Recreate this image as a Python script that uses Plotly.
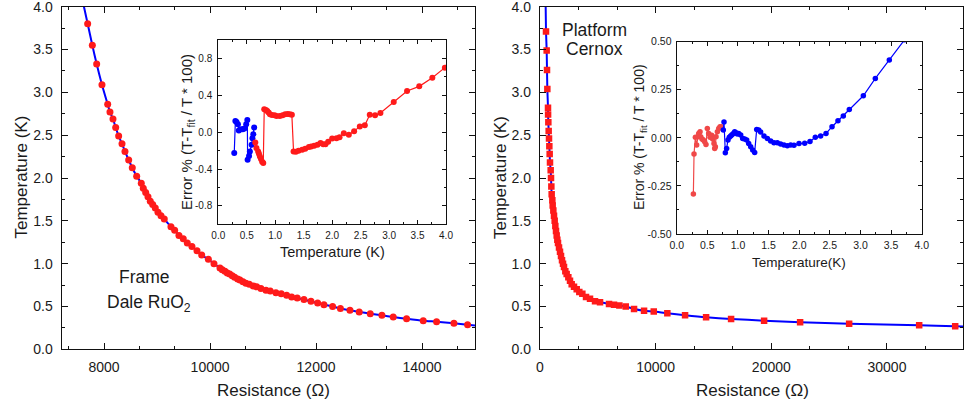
import plotly.graph_objects as go

# ---------------- Frame thermometer (Dale RuO2) ----------------
frame_R = [7690, 7778, 7860, 7960, 8068, 8111, 8168, 8219, 8275, 8338, 8394, 8464,
           8532, 8615, 8702, 8740, 8785, 8828, 8872, 8917, 8966, 9017, 9074, 9136,
           9262, 9332, 9413, 9494, 9570, 9658, 9753, 9842, 9968, 10074, 10187, 10230,
           10281, 10325, 10370, 10419, 10464, 10521, 10564, 10621, 10677, 10740, 10815,
           10879, 10960, 11055, 11136, 11243, 11343, 11445, 11540, 11645, 11772, 11904,
           12030, 12149, 12313, 12460, 12640, 12815, 13023, 13243, 13457, 13709, 14023,
           14275, 14602, 14860]
frame_T = [3.80, 3.55, 3.33, 3.09, 2.86, 2.77, 2.69, 2.59, 2.49, 2.40, 2.31, 2.21,
           2.12, 2.02, 1.94, 1.88, 1.83, 1.78, 1.73, 1.69, 1.65, 1.60, 1.56, 1.52,
           1.43, 1.39, 1.33, 1.29, 1.24, 1.20, 1.15, 1.10, 1.05, 1.00, 0.95, 0.93,
           0.91, 0.89, 0.88, 0.86, 0.84, 0.82, 0.81, 0.79, 0.77, 0.76, 0.74,
           0.73, 0.71, 0.69, 0.68, 0.66, 0.65, 0.63, 0.61, 0.60, 0.58, 0.56,
           0.54, 0.52, 0.50, 0.476, 0.455, 0.435, 0.416, 0.397, 0.377, 0.357, 0.334,
           0.322, 0.303, 0.287]
# fitted calibration curve (ends beyond the measured points)
frame_fit_R = [7620] + frame_R + [15000]
frame_fit_T = [4.0] + frame_T + [0.278]

# ---------------- Platform thermometer (Cernox) ----------------
plat_R = [519, 577, 606, 635, 692, 700, 721, 750, 779, 808, 836, 865, 923, 952, 981,
          1009, 1067, 1096, 1153, 1211, 1269, 1326, 1384, 1442, 1499, 1557, 1644, 1730,
          1817, 1903, 1990, 2076, 2190, 2306, 2450, 2595, 2740, 2941, 3174, 3400, 3662,
          3979, 4325, 4758, 5190, 5969, 6401, 6863, 7415, 8131, 8997, 9836, 11010,
          12543, 14360, 16522, 19377, 22491, 26730, 32785, 35900]
plat_T = [3.71, 3.49, 3.26, 3.04, 2.82, 2.74, 2.65, 2.55, 2.46, 2.37, 2.28, 2.18, 2.09,
          2.00, 1.90, 1.81, 1.74, 1.68, 1.62, 1.56, 1.50, 1.44, 1.38, 1.33, 1.28, 1.24,
          1.19, 1.14, 1.09, 1.04, 1.00, 0.96, 0.91, 0.88, 0.84, 0.80, 0.76, 0.73, 0.70,
          0.67, 0.65, 0.61, 0.59, 0.56, 0.55, 0.53, 0.52, 0.51, 0.50, 0.47, 0.45, 0.44,
          0.42, 0.397, 0.373, 0.354, 0.334, 0.315, 0.299, 0.280, 0.268]
plat_fit_R = [490] + plat_R + [36600]
plat_fit_T = [4.0] + plat_T + [0.265]

# ---------------- Fit residuals, frame ----------------
frame_err_blue_T = [0.28, 0.30, 0.32, 0.345, 0.36, 0.40, 0.43, 0.46, 0.49, 0.51,
                    0.515, 0.54, 0.555, 0.585, 0.60, 0.615, 0.63]
frame_err_blue = [-0.227, 0.122, 0.111, 0.086, 0.018, 0.032, 0.032, 0.04, 0.086, 0.133,
                  -0.30, -0.26, -0.21, -0.137, -0.065, -0.022, 0.05]
frame_err_red_T = [0.65, 0.67, 0.70, 0.714, 0.73, 0.75, 0.77, 0.79, 0.807, 0.837, 0.86,
                   0.884, 0.907, 0.942, 0.989, 1.024, 1.082, 1.13, 1.175, 1.22, 1.257,
                   1.292, 1.322, 1.363, 1.41, 1.474, 1.527, 1.591, 1.632, 1.684, 1.743,
                   1.796, 1.843, 1.883, 1.93, 2.0, 2.077, 2.13, 2.205, 2.293, 2.386,
                   2.486, 2.574, 2.661, 2.754, 2.848, 3.082, 3.316, 3.53, 3.76, 3.98]
frame_err_red = [-0.112, -0.173, -0.21, -0.235, -0.264, -0.292, -0.321, -0.335, 0.248,
                 0.241, 0.23, 0.212, 0.194, 0.187, 0.184, 0.176, 0.176, 0.184, 0.194,
                 0.198, 0.194, 0.19, -0.21, -0.213, -0.202, -0.19, -0.18, -0.162, -0.155,
                 -0.148, -0.137, -0.119, -0.13, -0.13, -0.105, -0.069, -0.065, -0.054,
                 -0.011, -0.029, 0.011, 0.061, 0.076, 0.19, 0.184, 0.209, 0.327, 0.446,
                 0.497, 0.59, 0.70]

# ---------------- Fit residuals, platform ----------------
plat_err_red_T = [0.272, 0.283, 0.305, 0.326, 0.348, 0.359, 0.381, 0.392, 0.413, 0.435,
                  0.457, 0.478, 0.50, 0.522, 0.544, 0.571, 0.588, 0.609, 0.62, 0.631,
                  0.642, 0.664, 0.686, 0.707, 0.729]
plat_err_red = [-0.292, -0.084, 0.003, -0.037, 0.006, 0.023, 0.032, 0.006, -0.006,
                -0.011, -0.02, -0.034, 0.049, 0.023, 0.003, 0.013, -0.006, -0.029,
                -0.055, -0.046, 0.006, 0.032, 0.049, 0.058, 0.058]
plat_err_blue_T = [0.761, 0.772, 0.794, 0.815, 0.837, 0.859, 0.881, 0.903, 0.925, 0.947,
                   0.968, 0.99, 1.012, 1.045, 1.077, 1.11, 1.143, 1.175, 1.208, 1.241,
                   1.273, 1.306, 1.339, 1.371, 1.425, 1.48, 1.534, 1.588, 1.643, 1.697,
                   1.752, 1.806, 1.861, 1.915, 1.997, 2.09, 2.176, 2.263, 2.35, 2.438,
                   2.536, 2.633, 2.72, 2.818, 3.047, 3.243, 3.471, 3.72]
plat_err_blue = [0.041, 0.082, -0.077, -0.055, -0.011, 0.003, 0.009, 0.016, 0.023, 0.032,
                 0.027, 0.02, 0.023, 0.015, -0.003, -0.006, -0.011, -0.029, -0.046, -0.063,
                 -0.076, 0.044, 0.041, 0.03, 0.009, -0.003, -0.017, -0.025, -0.025, -0.032,
                 -0.037, -0.041, -0.037, -0.039, -0.03, -0.028, -0.019, 0.003, 0.009, 0.023,
                 0.058, 0.089, 0.113, 0.148, 0.219, 0.309, 0.405, 0.51]

# tick labels
main_T_ticks = [0.0, 0.5, 1.0, 1.5, 2.0, 2.5, 3.0, 3.5, 4.0]
inset_T_ticks = [0.0, 0.5, 1.0, 1.5, 2.0, 2.5, 3.0, 3.5, 4.0]
frame_err_ticks = [-0.8, -0.4, 0.0, 0.4, 0.8]
frame_err_labels = ["-0.8", "-0.4", "0.0", "0.4", "0.8"]
plat_err_ticks = [-0.5, -0.25, 0.0, 0.25, 0.5]
plat_err_labels = ["-0.50", "-0.25", "0.00", "0.25", "0.50"]

W, H = 965, 407
FONT = "Liberation Sans, Arial, sans-serif"
TXT = "#1a1a1a"
RED = "#ff1a1a"
BLUE = "#0000ff"


def px_x(p):
    return p / W


def px_y(p):
    return (H - p) / H


fig = go.Figure()

# main panels: fit curve + measured points
fig.add_trace(go.Scatter(x=frame_fit_R, y=frame_fit_T, mode="lines",
                         line=dict(color=BLUE, width=2, shape="spline", smoothing=0.6),
                         xaxis="x", yaxis="y", hoverinfo="skip"))
fig.add_trace(go.Scatter(x=frame_R, y=frame_T, mode="markers",
                         marker=dict(color=RED, size=7, symbol="circle"),
                         xaxis="x", yaxis="y"))
fig.add_trace(go.Scatter(x=plat_fit_R, y=plat_fit_T, mode="lines",
                         line=dict(color=BLUE, width=2, shape="spline", smoothing=0.6),
                         xaxis="x2", yaxis="y2", hoverinfo="skip"))
fig.add_trace(go.Scatter(x=plat_R, y=plat_T, mode="markers",
                         marker=dict(color=RED, size=6.5, symbol="square"),
                         xaxis="x2", yaxis="y2"))

# insets: residuals
fig.add_trace(go.Scatter(x=frame_err_blue_T, y=frame_err_blue, mode="lines+markers",
                         line=dict(color=BLUE, width=1.2),
                         marker=dict(color=BLUE, size=6), xaxis="x3", yaxis="y3"))
fig.add_trace(go.Scatter(x=frame_err_red_T, y=frame_err_red, mode="lines+markers",
                         line=dict(color=RED, width=1.2),
                         marker=dict(color=RED, size=6), xaxis="x3", yaxis="y3"))
fig.add_trace(go.Scatter(x=plat_err_red_T, y=plat_err_red, mode="lines+markers",
                         line=dict(color="#f04848", width=1.2),
                         marker=dict(color="#f04848", size=5.5), xaxis="x4", yaxis="y4"))
fig.add_trace(go.Scatter(x=plat_err_blue_T, y=plat_err_blue, mode="lines+markers",
                         line=dict(color=BLUE, width=1.2),
                         marker=dict(color=BLUE, size=5.5), xaxis="x4", yaxis="y4",
                         cliponaxis=True))


def axis(domain, rng, anchor, tick_font, ticklen=6, minorlen=3, lw=1.4, **kw):
    d = dict(domain=domain, range=rng, anchor=anchor, showgrid=False, zeroline=False,
             showline=True, linecolor="#111", linewidth=lw, mirror="ticks",
             ticks="inside", ticklen=ticklen, tickwidth=1, tickcolor="#111",
             tickfont=dict(family=FONT, size=tick_font, color=TXT),
             ticklabeloverflow="allow", automargin=False, fixedrange=True)
    d.update(kw)
    if "minor_dtick" in d:
        d["minor"] = dict(dtick=d.pop("minor_dtick"), ticks="inside", ticklen=minorlen,
                          tickwidth=1, tickcolor="#111", showgrid=False,
                          tick0=d.pop("minor_tick0", 0))
    return d


main_y = [px_y(349.3), px_y(6.7)]
fig.update_layout(
    width=W, height=H,
    margin=dict(l=0, r=0, t=0, b=0),
    paper_bgcolor="white", plot_bgcolor="white",
    showlegend=False,
    xaxis=axis([px_x(61.7), px_x(475)], [7200, 15000], "y", 14,
               tick0=8000, dtick=2000, tickformat="d",
               minor_dtick=2000 / 3, minor_tick0=8000, ticklabelstandoff=5),
    yaxis=axis(main_y, [0, 4], "x", 14, tickmode="array", tickvals=main_T_ticks,
               tickformat=".1f", minor_dtick=0.25, ticklabelstandoff=5),
    xaxis2=axis([px_x(540), px_x(963.3)], [0, 36600], "y2", 14,
                tick0=0, dtick=10000, tickformat="d",
                minor_dtick=10000 / 3, ticklabelstandoff=5),
    yaxis2=axis(main_y, [0, 4], "x2", 14, tickmode="array", tickvals=main_T_ticks,
                tickformat=".1f", minor_dtick=0.25, ticklabelstandoff=5),
    xaxis3=axis([px_x(218.3), px_x(446)], [0, 4], "y3", 10, ticklen=4, minorlen=2,
                lw=1.1, tickmode="array", tickvals=inset_T_ticks, tickformat=".1f",
                minor_dtick=0.25, ticklabelstandoff=2),
    yaxis3=axis([px_y(224.3), px_y(40)], [-1, 1], "x3", 10, ticklen=4, minorlen=2,
                lw=1.1, tickmode="array", tickvals=frame_err_ticks,
                ticktext=frame_err_labels, minor_dtick=0.2, ticklabelstandoff=3),
    xaxis4=axis([px_x(676.7), px_x(921.7)], [0, 4], "y4", 10.5, ticklen=4, minorlen=2,
                lw=1.1, tickmode="array", tickvals=inset_T_ticks, tickformat=".1f",
                minor_dtick=0.25, ticklabelstandoff=1),
    yaxis4=axis([px_y(234), px_y(41.7)], [-0.5, 0.5], "x4", 10.5, ticklen=4, minorlen=2,
                lw=1.1, tickmode="array", tickvals=plat_err_ticks,
                ticktext=plat_err_labels, minor_dtick=0.125, ticklabelstandoff=2),
)


def label(text, x, y, size, angle=0):
    fig.add_annotation(text=text, x=px_x(x), y=px_y(y), xref="paper", yref="paper",
                       xanchor="center", yanchor="middle", showarrow=False,
                       textangle=angle, font=dict(family=FONT, size=size, color=TXT))


# axis titles
label("Temperature (K)", 20.5, 177, 17, -90)
label("Resistance (Ω)", 273, 390, 17)
label("Temperature (K)", 500, 177, 17, -90)
label("Resistance (Ω)", 752, 390, 17)
label("Error % (T-T<sub>fit</sub> / T * 100)", 187, 132, 15, -90)
label("Temperature (K)", 332, 252, 14.5)
label("Error % (T-T<sub>fit</sub> / T * 100)", 640, 137, 14, -90)
label("Temperature(K)", 799, 262, 13.5)

# panel captions
label("Frame", 144, 277, 17.5)
label("Dale RuO<sub>2</sub>", 149, 303, 17.5)
label("Platform", 594, 30, 17.5)
label("Cernox", 594, 49, 17.5)

fig.write_html("out.html")
